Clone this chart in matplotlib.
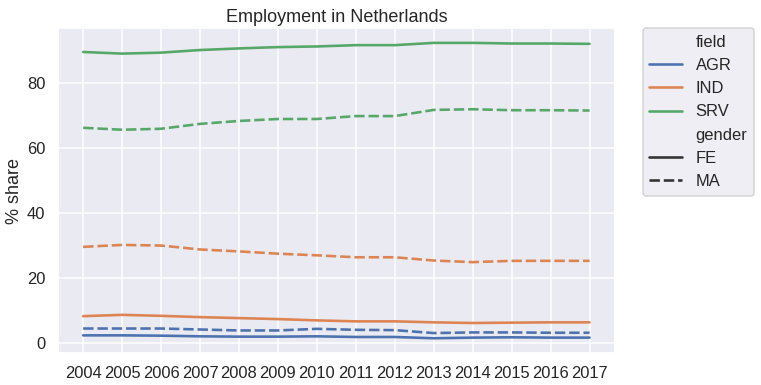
import numpy as np
import pandas as pd
import matplotlib
matplotlib.use("Agg")
import matplotlib.pyplot as plt
import seaborn as sns

years = list(range(2004, 2018))

# share of employment (%) per field and gender
agr_fe = [2.4, 2.4, 2.3, 2.1, 2.0, 2.0, 2.1, 1.9, 1.9, 1.5, 1.7, 1.8, 1.7, 1.7]
agr_ma = [4.5, 4.5, 4.5, 4.2, 3.9, 3.9, 4.4, 4.1, 4.0, 3.1, 3.3, 3.3, 3.2, 3.2]
ind_fe = [8.3, 8.7, 8.4, 8.0, 7.7, 7.4, 7.0, 6.7, 6.7, 6.4, 6.2, 6.3, 6.4, 6.4]
ind_ma = [29.6, 30.2, 30.0, 28.8, 28.2, 27.5, 27.0, 26.4, 26.4, 25.4, 24.9, 25.3, 25.3, 25.3]
srv_fe = [89.5, 89.0, 89.3, 90.1, 90.6, 91.0, 91.2, 91.6, 91.6, 92.3, 92.3, 92.1, 92.1, 92.0]
srv_ma = [66.2, 65.6, 65.9, 67.4, 68.3, 68.9, 68.9, 69.8, 69.8, 71.7, 71.9, 71.6, 71.6, 71.5]

series = {
    ("AGR", "FE"): agr_fe, ("AGR", "MA"): agr_ma,
    ("IND", "FE"): ind_fe, ("IND", "MA"): ind_ma,
    ("SRV", "FE"): srv_fe, ("SRV", "MA"): srv_ma,
}
rows = []
for (field, gender), vals in series.items():
    for y, v in zip(years, vals):
        rows.append({"year": y, "field": field, "gender": gender, "share": v})
df = pd.DataFrame(rows)

sns.set_theme(context="talk", style="darkgrid",
              rc={"lines.linewidth": 2.6})
plt.rcParams["font.family"] = ["Liberation Sans", "DejaVu Sans"]

fig, ax = plt.subplots(figsize=(761 / 72, 385 / 72), dpi=72)
fig.subplots_adjust(left=0.076, right=0.808, bottom=0.083, top=0.927)

sns.lineplot(data=df, x="year", y="share", hue="field", style="gender", ax=ax)
ax.set_xticks(years)
ax.set_xlabel("")
ax.set_ylabel("% share")
ax.set_title("Employment in Netherlands")
ax.legend(bbox_to_anchor=(1.05, 1), loc=2, borderaxespad=0.)

fig.savefig("out.png", dpi=72)
